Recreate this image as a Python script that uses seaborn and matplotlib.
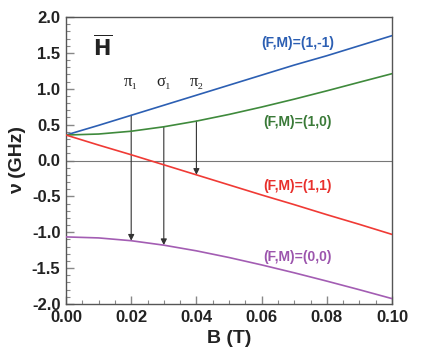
import numpy as np
import pandas as pd
import seaborn as sns
import matplotlib
matplotlib.use("Agg")
import matplotlib.pyplot as plt
from matplotlib.ticker import MultipleLocator

# Field values (T) and level energies (GHz)
B = [0.00, 0.01, 0.02, 0.03, 0.04, 0.05, 0.06, 0.07, 0.08, 0.09, 0.10]
nu_1m1 = [0.355, 0.49, 0.63, 0.77, 0.91, 1.05, 1.19, 1.33, 1.46, 1.60, 1.74]
nu_10 = [0.355, 0.369, 0.408, 0.470, 0.549, 0.642, 0.745, 0.855, 0.971, 1.091, 1.21]
nu_11 = [0.355, 0.215, 0.08, -0.06, -0.20, -0.34, -0.48, -0.615, -0.755, -0.89, -1.03]
nu_00 = [-1.065, -1.079, -1.118, -1.180, -1.259, -1.352, -1.455, -1.565, -1.681, -1.801, -1.925]

states = ["(F,M)=(1,-1)", "(F,M)=(1,0)", "(F,M)=(1,1)", "(F,M)=(0,0)"]
colors = ["#2c5fb3", "#3f8a3c", "#f03a35", "#a35db3"]
label_colors = ["#2c5fb3", "#3a7a38", "#e8302c", "#9c55ad"]
label_xy = [(0.071, 1.64), (0.071, 0.54), (0.071, -0.35), (0.071, -1.345)]

# transitions: name, field, upper level, lower level
transitions = [("π₁", 0.02, 0, 3), ("σ₁", 0.03, 1, 3), ("π₂", 0.04, 1, 2)]

levels = [nu_1m1, nu_10, nu_11, nu_00]
df = pd.concat([pd.DataFrame({"B": B, "nu": v, "state": s}) for v, s in zip(levels, states)])

sns.set_style("ticks")
plt.rcParams["font.family"] = ["Liberation Sans", "DejaVu Sans"]

fig = plt.figure(figsize=(4.36, 3.59), dpi=100)
ax = fig.add_axes([66 / 436, 1 - 304 / 359, 326 / 436, 287 / 359])

ax.axhline(0, color="#777777", lw=0.8, zorder=1)
sns.lineplot(data=df, x="B", y="nu", hue="state", palette=colors, lw=1.2,
             legend=False, ax=ax, zorder=3)

for name, b, up, lo in transitions:
    y0 = np.interp(b, B, levels[up])
    y1 = np.interp(b, B, levels[lo])
    ax.annotate("", xy=(b, y1), xytext=(b, y0),
                arrowprops=dict(arrowstyle="-|>", color="#333333", lw=0.8,
                                mutation_scale=9, shrinkA=0, shrinkB=0), zorder=2)
    ax.text(b, 1.10, name, ha="center", va="center", fontsize=12,
            family=["Liberation Serif", "DejaVu Serif"], color="#222222")

for s, (x, y), c in zip(states, label_xy, label_colors):
    ax.text(x, y, s, color=c, fontsize=10, fontweight="bold", ha="center", va="center")

ax.text(0.0113, 1.58, "$\\overline{\\mathbf{H}}$", fontsize=15, ha="center", va="center",
        math_fontfamily="dejavusans", color="#222222")

ax.set_xlim(0, 0.1)
ax.set_ylim(-2.0, 2.0)
ax.xaxis.set_major_locator(MultipleLocator(0.02))
ax.xaxis.set_minor_locator(MultipleLocator(0.005))
ax.yaxis.set_major_locator(MultipleLocator(0.5))
ax.yaxis.set_minor_locator(MultipleLocator(0.1))
ax.set_xticklabels([f"{t:.2f}" for t in ax.get_xticks()])
ax.set_yticklabels([f"{t:.1f}" for t in ax.get_yticks()])
ax.tick_params(which="both", direction="in", color="#888888", top=False, right=False)
ax.tick_params(which="major", length=6, width=1, labelsize=12, pad=4)
ax.tick_params(which="minor", length=3, width=0.8)
for lab in ax.get_xticklabels() + ax.get_yticklabels():
    lab.set_fontweight("bold")
    lab.set_color("#222222")
for sp in ax.spines.values():
    sp.set_color("#555555")
    sp.set_linewidth(1)

ax.set_xlabel("B (T)", fontsize=14, fontweight="bold", color="#222222")
ax.set_ylabel("ν (GHz)", fontsize=14, fontweight="bold", color="#222222", labelpad=4)

fig.savefig("out.png", dpi=100)
